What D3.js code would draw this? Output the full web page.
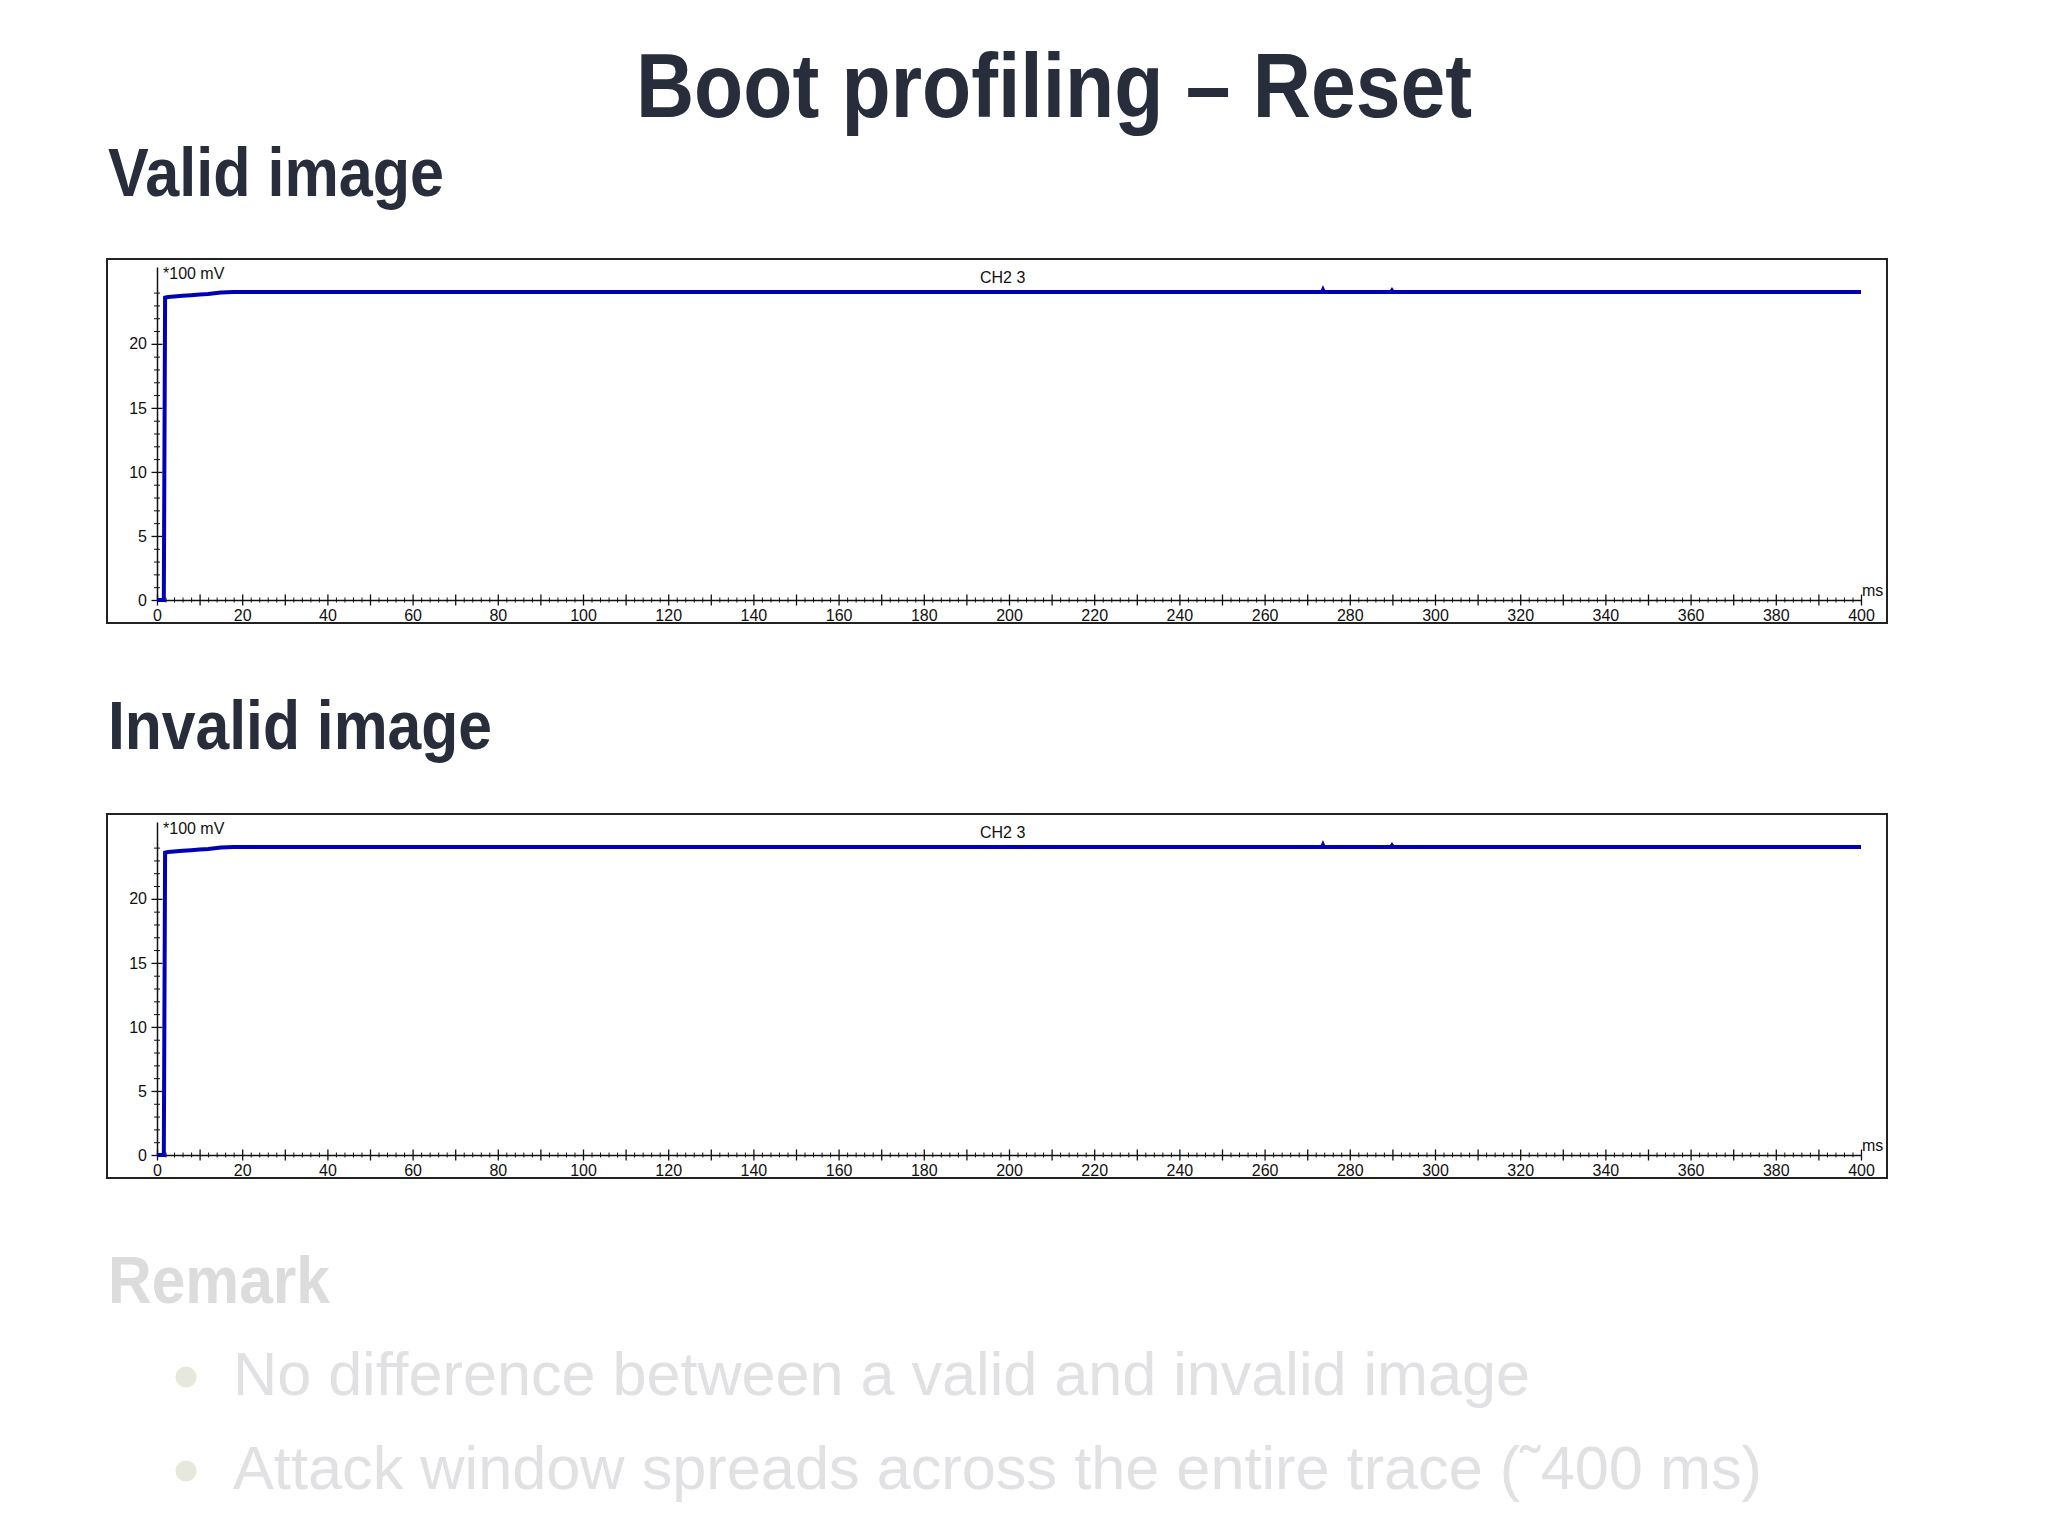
<!DOCTYPE html>
<html>
<head>
<meta charset="utf-8">
<script src="https://cdn.jsdelivr.net/npm/d3@7"></script>
<style>
	body{ margin:0; background:#fff; }
	svg{ display:block; }
</style>
</head>
<body>
<div id="slide"></div>
<script>

const slideTitle = "Boot profiling – Reset";
const sectionTitles = ["Valid image", "Invalid image"];
const remarkTitle = "Remark";
const remarkBullets = [
	"No difference between a valid and invalid image",
	"Attack window spreads across the entire trace (˜400 ms)"
];

const channelName = "CH2 3";
const yUnitLabel = "*100 mV";
const xUnitLabel = "ms";
const xTickLabels = [0, 20, 40, 60, 80, 100, 120, 140, 160, 180, 200, 220, 240, 260, 280, 300, 320, 340, 360, 380, 400];
const yTickLabels = [0, 5, 10, 15, 20];

// time in ms, value in *100 mV
const traceTime    = [0, 1.6, 1.9, 2.6, 4, 6, 8, 10, 12, 15, 18, 40, 273.5, 273.7, 273.9, 289.7, 289.9, 290.1, 400];
const validTrace   = [0, 0, 23.6, 23.65, 23.7, 23.75, 23.8, 23.85, 23.9, 24.0, 24.05, 24.05, 24.05, 24.2, 24.05, 24.05, 24.15, 24.05, 24.05];
const invalidTrace = [0, 0, 23.6, 23.65, 23.7, 23.75, 23.8, 23.85, 23.9, 24.0, 24.05, 24.05, 24.05, 24.2, 24.05, 24.05, 24.15, 24.05, 24.05];

class TraceChart{

	frame = {
		width : 1780,
		height : 364
	};

	plot = {
		left : 50,
		right : 1754,
		top : 8,
		bottom : 341
	};

	style = {
		lineColor : "#0000b4",
		lineWidth : 4,
		axisColor : "#111",
		font : "16px 'Liberation Sans', Arial, sans-serif"
	};

	constructor(svg, x, y, time, values){
		this.svg = svg;
		this.x = x;
		this.y = y;
		this.points = time.map((t, i) => [t, values[i]]);
	}

	draw(){
		const g = this.svg.append("g").attr("transform", `translate(${this.x},${this.y})`);

		g.append("rect")
			.attr("width", this.frame.width)
			.attr("height", this.frame.height)
			.attr("fill", "#fff")
			.attr("stroke", "#222")
			.attr("stroke-width", 2);

		const xScale = d3.scaleLinear().domain([0, 400]).range([this.plot.left, this.plot.right]);
		const yScale = d3.scaleLinear().domain([0, 26]).range([this.plot.bottom, this.plot.top]);

		//x ticks cross the axis line, long every 10 ms
		const xTicks = g.append("g")
			.attr("transform", `translate(0,${this.plot.bottom})`)
			.call(d3.axisBottom(xScale).tickValues(d3.range(0, 401, 2)).tickSize(0).tickFormat(""));
		xTicks.select(".domain").attr("stroke", this.style.axisColor).attr("stroke-width", 1.5);
		xTicks.selectAll(".tick line")
			.attr("y1", d => d % 10 === 0 ? -5.5 : -2.5)
			.attr("y2", d => d % 10 === 0 ? 5.5 : 2.5)
			.attr("stroke", this.style.axisColor)
			.attr("stroke-width", d => d % 10 === 0 ? 1.3 : 1);

		const xLabels = g.append("g")
			.attr("transform", `translate(0,${this.plot.bottom})`)
			.call(d3.axisBottom(xScale).tickValues(xTickLabels).tickSize(0).tickPadding(10));
		xLabels.select(".domain").remove();
		xLabels.selectAll("text").style("font", this.style.font).attr("fill", this.style.axisColor);

		const yTicks = g.append("g")
			.attr("transform", `translate(${this.plot.left},0)`)
			.call(d3.axisLeft(yScale).tickValues(d3.range(0, 25, 1)).tickSize(0).tickFormat(""));
		yTicks.select(".domain").attr("stroke", this.style.axisColor).attr("stroke-width", 1.5);
		yTicks.selectAll(".tick line")
			.attr("x1", d => d % 5 === 0 ? -5.5 : -3)
			.attr("x2", d => d % 5 === 0 ? 5.5 : 3)
			.attr("stroke", this.style.axisColor)
			.attr("stroke-width", d => d % 5 === 0 ? 1.3 : 1);

		const yLabels = g.append("g")
			.attr("transform", `translate(${this.plot.left},0)`)
			.call(d3.axisLeft(yScale).tickValues(yTickLabels).tickSize(0).tickPadding(10));
		yLabels.select(".domain").remove();
		yLabels.selectAll("text").style("font", this.style.font).attr("fill", this.style.axisColor);

		g.append("text")
			.attr("x", 56)
			.attr("y", 20)
			.style("font", this.style.font)
			.attr("fill", this.style.axisColor)
			.text(yUnitLabel);

		g.append("text")
			.attr("x", 873)
			.attr("y", 24)
			.style("font", this.style.font)
			.attr("fill", this.style.axisColor)
			.text(channelName);

		g.append("text")
			.attr("x", xScale(400) + 1)
			.attr("y", this.plot.bottom - 4)
			.style("font", this.style.font)
			.attr("fill", this.style.axisColor)
			.text(xUnitLabel);

		g.append("path")
			.datum(this.points)
			.attr("fill", "none")
			.attr("stroke", this.style.lineColor)
			.attr("stroke-width", this.style.lineWidth)
			.attr("d", d3.line().x(d => xScale(d[0])).y(d => yScale(d[1])));
	}
}

const svg = d3.select("#slide").append("svg")
	.attr("width", 2048)
	.attr("height", 1536)
	.style("background", "#fff");

const headFont = "'Liberation Sans', Arial, Helvetica, sans-serif";

function slideText(x, y, txt, size, weight, color, len){
	svg.append("text")
		.attr("x", x)
		.attr("y", y)
		.attr("textLength", len)
		.attr("lengthAdjust", "spacingAndGlyphs")
		.style("font-family", headFont)
		.style("font-size", size + "px")
		.style("font-weight", weight)
		.attr("fill", color)
		.text(txt);
}

slideText(636, 117, slideTitle, 90, "bold", "#272d3b", 836);
slideText(108, 196, sectionTitles[0], 68, "bold", "#272d3b", 336);
slideText(108, 749, sectionTitles[1], 68, "bold", "#272d3b", 384);

new TraceChart(svg, 107, 259, traceTime, validTrace).draw();
new TraceChart(svg, 107, 814, traceTime, invalidTrace).draw();

slideText(108, 1303, remarkTitle, 66, "bold", "#dcdcdc", 222);

const bulletY = [1395, 1489];
const bulletLen = [1297, 1529];
remarkBullets.forEach((b, i) => {
	svg.append("circle")
		.attr("cx", 186)
		.attr("cy", bulletY[i] - 18)
		.attr("r", 10.5)
		.attr("fill", "#e6e8db");
	slideText(233, bulletY[i], b, 62, "normal", "#e1e1e4", bulletLen[i]);
});

</script>
</body>
</html>
